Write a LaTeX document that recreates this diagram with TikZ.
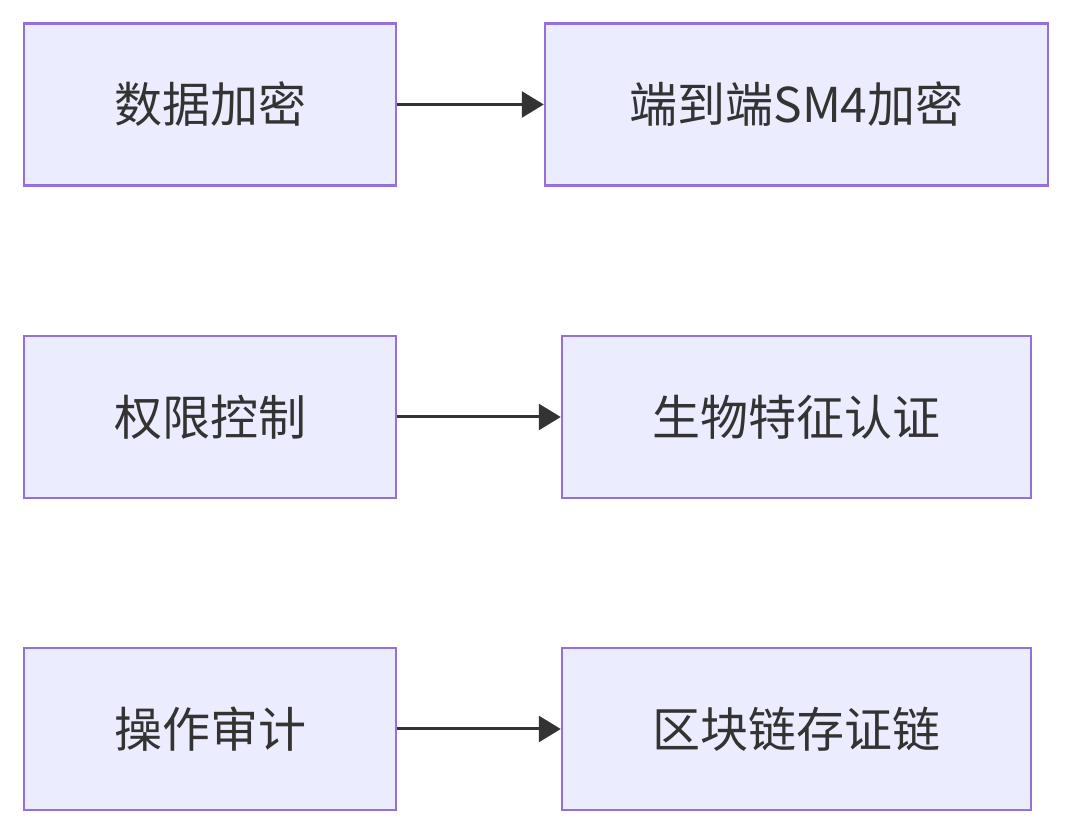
\documentclass[tikz,border=0pt]{standalone}
\usepackage{fontspec}
\newfontfamily\cjk{Noto Sans CJK SC}
\usetikzlibrary{arrows.meta}
\definecolor{boxfill}{HTML}{ECECFF}
\definecolor{boxline}{HTML}{9370DB}
\definecolor{ink}{HTML}{333333}
\begin{document}
\begin{tikzpicture}[x=1pt,y=1pt,
	every node/.style={rectangle,draw=boxline,fill=boxfill,line width=2.5pt,
		minimum height=162pt,inner sep=0,text=ink,font=\cjk\fontsize{48}{58}\selectfont},
	link/.style={draw=ink,line width=3pt,-{Triangle[length=22pt,width=26pt]}}]
\useasboundingbox (0,0) rectangle (1072,834);
\node[minimum width=372pt] (enc) at (210,729.5) {数据加密};
\node[minimum width=503pt] (sm4) at (796.5,729.5) {端到端SM4加密};
\node[minimum width=372pt] (perm) at (210,417) {权限控制};
\node[minimum width=469pt] (bio) at (796.5,417) {生物特征认证};
\node[minimum width=372pt] (audit) at (210,105) {操作审计};
\node[minimum width=469pt] (chain) at (796.5,105) {区块链存证链};
\draw[link] (enc) -- (sm4);
\draw[link] (perm) -- (bio);
\draw[link] (audit) -- (chain);
\end{tikzpicture}
\end{document}
